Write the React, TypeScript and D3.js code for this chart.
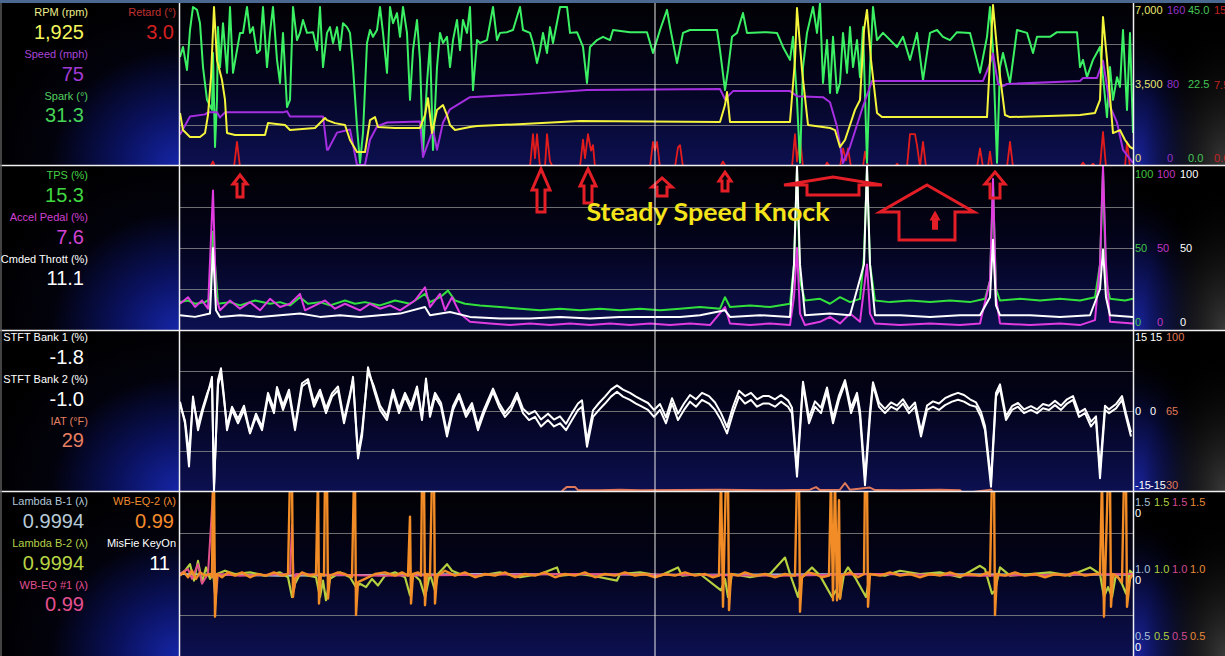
import React from "react";
import * as d3 from "d3";

type Pt = [number, number];

// time axis of the log (samples)
const timeDomain: [number, number] = [0, 953];
const cursorTime = 475;

// ---------- Panel 1 ----------
const rpm: Pt[] = [[0,2250],[3,1510],[10,1210],[20,1210],[25,1380],[28,2160],[31,3800],[34,6830],[37,4540],[42,3670],[45,2810],[47,1380],[55,1300],[85,1300],[88,1810],[105,1730],[110,1510],[135,1600],[138,1730],[145,2030],[147,1940],[155,1810],[165,1730],[170,1080],[177,560],[185,560],[190,1940],[195,2070],[198,1640],[215,1600],[240,1600],[245,2160],[248,2890],[252,1380],[257,2380],[263,2590],[267,2160],[270,1730],[275,1510],[290,1640],[297,1690],[343,1770],[400,1900],[540,1860],[545,2590],[547,3150],[550,1860],[610,1860],[615,4540],[617,6780],[622,4100],[628,1730],[650,1600],[655,1510],[660,780],[665,1080],[670,1730],[675,2380],[680,2810],[684,5830],[687,6700],[691,4540],[697,2250],[702,2070],[807,2070],[810,4540],[813,6910],[818,4540],[825,2160],[830,2070],[900,2160],[915,2250],[920,2810],[923,6390],[927,4540],[933,1380],[940,1510],[945,1080],[950,780],[953,700]];
const speed: Pt[] = [[0,30],[10,48],[25,50],[28,52],[37,52],[40,47],[45,52],[103,52],[107,53],[110,48],[143,48],[145,32],[147,15],[148,15],[157,32],[170,35],[177,0],[185,0],[190,25],[197,38],[207,42],[240,43],[243,8],[253,35],[257,15],[263,42],[270,55],[290,67],[347,70],[407,74],[540,75],[545,65],[553,73],[610,73],[617,68],[643,67],[650,62],[657,38],[663,2],[670,18],[683,58],[692,83],[803,83],[810,100],[813,110],[818,80],[823,78],[827,80],[900,83],[903,86],[917,86],[923,103],[930,58],[937,42],[943,15],[953,2]];
const spark: Pt[] = [[0,30.0],[3,32.8],[7,26.4],[10,37.5],[13,43.9],[17,43.1],[20,39.4],[23,27.2],[27,18.1],[32,15.3],[33,31.1],[35,5.0],[37,18.1],[38,38.3],[40,27.2],[43,39.4],[47,25.6],[50,43.9],[53,25.6],[57,31.9],[60,36.7],[63,36.7],[67,43.9],[70,36.7],[73,38.3],[77,31.1],[80,31.9],[83,43.9],[87,27.2],[90,36.7],[93,43.9],[97,29.2],[100,22.8],[103,36.7],[107,16.1],[110,18.1],[113,43.9],[117,34.7],[120,36.7],[123,40.3],[127,36.7],[133,36.9],[137,31.9],[140,43.9],[143,27.2],[147,36.7],[150,38.3],[153,33.9],[157,38.3],[160,31.9],[163,39.4],[167,38.3],[170,36.7],[173,27.2],[177,10.6],[180,0.6],[183,8.9],[187,33.9],[190,37.5],[193,35.6],[197,37.5],[200,43.9],[203,36.7],[207,25.6],[210,43.9],[213,39.4],[217,42.2],[220,35.6],[223,43.9],[227,36.7],[230,18.1],[233,31.9],[237,40.3],[240,29.2],[243,3.3],[247,22.8],[250,33.9],[253,4.2],[257,27.2],[260,36.7],[263,33.9],[267,35.6],[270,27.2],[273,34.7],[277,40.3],[280,31.9],[283,40.3],[287,36.7],[290,43.9],[293,20.8],[297,34.7],[300,33.9],[307,34.7],[313,43.9],[317,34.7],[320,36.7],[327,36.9],[333,37.5],[340,43.9],[343,37.5],[350,36.7],[353,33.9],[357,28.3],[360,31.9],[363,36.7],[367,31.1],[370,38.3],[373,33.9],[380,43.9],[387,43.9],[390,36.7],[397,36.9],[403,32.8],[407,22.8],[410,32.8],[417,34.7],[423,35.6],[430,34.7],[433,37.5],[450,36.9],[467,36.9],[473,31.1],[480,37.5],[487,43.1],[490,38.3],[497,28.3],[503,36.7],[510,37.5],[537,37.5],[540,31.9],[545,20.8],[548,26.4],[552,35.6],[557,36.7],[563,42.2],[567,36.7],[587,36.9],[597,36.7],[603,32.8],[610,29.2],[613,35.6],[617,18.1],[620,0.6],[623,27.2],[627,36.7],[633,43.9],[637,36.7],[640,45],[643,22.8],[647,34.7],[650,20.0],[653,35.6],[657,20.0],[660,22.8],[663,36.7],[667,25.6],[670,38.3],[673,27.2],[677,34.7],[680,24.4],[683,38.3],[687,0.6],[690,27.2],[693,43.9],[697,34.7],[703,36.7],[717,32.8],[723,35.6],[730,29.2],[737,36.7],[743,23.6],[750,36.7],[757,37.5],[763,35.6],[770,34.7],[777,36.9],[790,36.7],[800,25.6],[807,35.6],[810,43.9],[813,31.9],[817,0.6],[820,27.2],[823,31.1],[830,22.8],[837,37.5],[847,36.7],[853,31.1],[857,35.6],[870,35.6],[877,36.9],[897,36.9],[900,27.2],[903,29.2],[907,24.4],[913,29.2],[920,32.8],[927,13.3],[930,27.2],[933,18.1],[937,24.4],[940,21.7],[943,37.5],[947,15.3],[950,36.7],[953,8.9]];
const retard: Pt[] = [[0,0],[30,0],[33,0.5],[35,0],[54,0],[57,2.3],[60,0],[350,0],[353,3.0],[355,0.8],[357,3.0],[360,0],[365,0],[367,3.0],[370,0.5],[373,0],[400,0],[403,2.5],[405,0.8],[408,3.0],[411,1.5],[413,2.0],[415,0],[470,0],[473,2.3],[475,1.5],[477,2.3],[480,0],[495,0],[498,1.8],[500,2.0],[503,0],[540,0],[543,0.5],[546,0],[612,0],[615,3.0],[617,0.5],[620,2.7],[623,0],[645,0],[647,0.4],[650,0],[660,0],[663,1.7],[666,0.6],[668,1.7],[671,0],[683,0],[685,1.4],[688,0],[715,0],[717,0.3],[720,0],[727,0],[730,3.0],[735,3.0],[737,2.0],[740,0],[743,2.3],[746,0],[797,0],[800,1.7],[803,0],[808,0],[810,1.4],[812,0],[827,0],[830,2.3],[833,0],[900,0],[903,0.4],[906,0],[910,0],[913,0.3],[916,0],[920,0],[923,3.2],[926,0],[945,0],[947,2.3],[950,0],[953,0]];

// ---------- Panel 2 ----------
const tps: Pt[] = [[0,17],[8,18],[15,16],[25,17],[30,19],[33,60],[35,40],[38,16],[50,17],[60,15],[75,18],[90,16],[100,17],[110,15],[120,20],[128,16],[140,17],[150,15],[165,18],[175,16],[185,17],[200,15],[215,18],[230,16],[245,22],[250,17],[260,20],[268,24],[275,18],[285,16],[300,15],[320,14],[340,13],[360,12],[380,13],[400,12],[420,13],[440,12],[460,13],[480,12],[500,13],[520,14],[540,13],[545,20],[550,14],[570,15],[590,14],[610,16],[614,40],[617,98],[620,30],[625,18],[640,19],[650,16],[660,20],[670,17],[680,19],[684,45],[687,98],[690,40],[695,18],[710,17],[730,18],[750,17],[770,18],[790,17],[805,19],[810,30],[813,88],[816,25],[820,18],[840,19],[860,18],[880,19],[900,18],[915,20],[920,40],[923,97],[926,30],[930,19],[945,18],[953,19]];
const accelPedal: Pt[] = [[0,16],[8,20],[15,14],[22,18],[28,13],[33,85],[36,20],[40,12],[50,18],[60,13],[70,17],[80,12],[90,19],[100,14],[110,16],[120,22],[125,12],[135,15],[145,18],[155,13],[165,16],[180,12],[190,16],[200,13],[210,15],[220,12],[235,18],[245,26],[250,14],[260,22],[265,12],[272,20],[280,10],[290,5],[310,4],[330,3],[350,4],[370,3],[390,4],[410,3],[430,4],[450,3],[470,4],[490,3],[510,4],[530,3],[545,14],[550,4],[570,3],[590,4],[610,3],[614,20],[617,50],[620,10],[625,3],[640,5],[650,8],[660,4],[670,10],[680,5],[684,25],[687,40],[690,10],[695,4],[720,3],[750,4],[780,3],[800,4],[810,30],[813,92],[816,20],[820,4],[850,3],[880,4],[900,3],[915,6],[920,40],[923,100],[926,40],[930,5],[953,4]];
const cmdThrottle: Pt[] = [[0,9],[15,8],[30,10],[33,50],[36,12],[40,8],[60,9],[80,8],[100,9],[120,10],[140,8],[160,9],[180,8],[200,9],[220,10],[245,14],[250,9],[270,11],[290,8],[320,7],[350,7],[380,8],[410,7],[440,8],[470,8],[500,8],[520,9],[545,12],[550,8],[580,9],[610,8],[614,40],[617,100],[620,40],[625,9],[650,10],[670,9],[684,40],[687,100],[690,40],[695,9],[720,9],[750,8],[780,9],[800,9],[810,20],[813,55],[816,15],[820,9],[850,9],[880,8],[910,9],[920,25],[923,49],[926,20],[930,9],[953,8]];

// ---------- Panel 3 ----------
const stft1: Pt[] = [[0,1.75],[5,-2.3],[9,-10.4],[13,2.7],[18,-3.6],[23,0.2],[27,2.7],[32,6.4],[34,-15],[38,5.8],[41,8],[44,2.7],[47,-3.6],[52,0.2],[58,-2.3],[64,0.2],[70,-4.2],[76,-1.1],[82,-3.6],[88,2.7],[94,-0.4],[97,3.9],[103,0.2],[109,3.3],[115,-3.6],[122,4.6],[128,5.5],[134,0.8],[140,3.3],[146,-0.4],[152,2.7],[158,3.9],[164,-2.3],[170,2.7],[173,6.4],[178,-8.9],[182,-4.8],[188,8.2],[194,3.9],[200,0.2],[207,-1.7],[213,3.3],[219,-0.4],[225,2.7],[231,0.2],[237,3.9],[242,-1.7],[246,6.1],[250,-1.1],[255,2.7],[261,0.8],[267,-4.8],[273,0.2],[279,2.7],[286,-1.1],[292,0.8],[298,-3.6],[304,-0.4],[313,3.6],[319,0.8],[325,-1.1],[331,0.2],[337,2.7],[343,-0.4],[349,-1.7],[355,-1.1],[361,-2.9],[368,-1.7],[374,-2.9],[380,-2.3],[386,-3.6],[392,-1.7],[398,0.2],[402,0.8],[407,-6.7],[413,-1.1],[419,0.2],[425,1.4],[431,2.7],[437,3.6],[443,2.7],[450,2.1],[456,1.4],[462,0.8],[468,0.2],[474,-1.1],[480,0.2],[486,-2.3],[492,1.4],[498,-1.7],[504,0.2],[510,1.75],[516,0.8],[522,2.1],[529,1.4],[535,0.2],[541,-1.7],[547,-4.2],[553,-0.4],[559,2.7],[565,1.4],[571,2.1],[577,0.8],[583,1.4],[589,1.4],[595,0.8],[601,1.75],[608,0.8],[612,-0.4],[617,-12.3],[623,4.9],[629,-2.3],[635,0.8],[641,-0.4],[647,3.6],[653,-2.3],[659,2.1],[665,5.2],[671,-0.4],[677,2.7],[680,-1.1],[685,-13.9],[690,-1.1],[693,4.9],[699,0.8],[705,-0.4],[711,0.8],[717,0.2],[723,1.4],[729,-0.4],[735,0.8],[741,-4.8],[747,0.2],[753,0.8],[759,0.2],[765,1.1],[772,1.75],[778,2.1],[784,1.75],[790,1.1],[796,0.8],[801,-1.1],[805,-3.6],[811,-14.2],[816,2.7],[820,4.25],[826,-1.7],[832,0.2],[838,0.8],[844,-0.4],[851,0.2],[857,-0.4],[863,0.5],[869,0.2],[875,1.1],[881,0.2],[887,1.4],[893,2.1],[899,-1.1],[905,-0.4],[911,-2.9],[916,-1.7],[920,-12.6],[925,0.2],[929,-0.4],[936,0.5],[942,2.1],[946,-1.1],[951,-4.8]];
const stft2: Pt[] = [[0,1.2],[5,-1.8],[9,-8],[13,2.0],[18,-2.5],[23,0.8],[27,3.2],[32,5.5],[34,-14],[38,4.9],[41,7.0],[44,2.2],[47,-2.8],[52,0.8],[58,-1.5],[64,1.0],[70,-4.0],[76,-0.5],[82,-3.0],[88,3.4],[94,0.4],[97,4.5],[103,1.0],[109,4.0],[115,-2.8],[122,5.2],[128,6.0],[134,1.6],[140,4.0],[146,0.5],[152,3.3],[158,4.6],[164,-1.6],[170,3.3],[173,5.8],[178,-8],[182,-3.8],[188,7.4],[194,4.6],[200,1.0],[207,-1.0],[213,4.0],[219,0.4],[225,3.4],[231,1.0],[237,4.6],[242,-1.0],[246,5.4],[250,-0.3],[255,3.4],[261,1.5],[267,-4.0],[273,0.9],[279,3.2],[286,-0.4],[292,1.5],[298,-2.8],[304,0.3],[313,4.2],[319,1.5],[325,-0.4],[331,1.0],[337,3.4],[343,0.4],[349,-0.6],[355,0],[361,-1.6],[368,-0.5],[374,-1.6],[380,-1.0],[386,-2.4],[392,-0.4],[398,1.4],[402,2.0],[407,-5.6],[413,0.1],[419,1.5],[425,2.7],[431,4.0],[437,4.8],[443,4.0],[450,3.4],[456,2.7],[462,2.1],[468,1.5],[474,0.2],[480,1.3],[486,-1.2],[492,2.4],[498,-0.5],[504,1.4],[510,3.0],[516,2.2],[522,3.4],[529,2.8],[535,1.6],[541,-0.4],[547,-3.0],[553,0.8],[559,3.8],[565,2.8],[571,3.4],[577,2.2],[583,2.8],[589,2.8],[595,2.2],[601,3.0],[608,2.0],[612,0.6],[617,-11],[623,5.5],[629,-1.3],[635,1.8],[641,0.6],[647,4.4],[653,-1.3],[659,2.9],[665,5.8],[671,0.6],[677,3.4],[680,0],[685,-12.5],[690,0],[693,5.4],[699,1.6],[705,0.4],[711,1.6],[717,1.0],[723,2.2],[729,0.4],[735,1.6],[741,-3.8],[747,1.0],[753,1.8],[759,1.4],[765,2.4],[772,3.0],[778,3.4],[784,3.0],[790,2.2],[796,1.6],[801,-0.2],[805,-2.8],[811,-13],[816,3.4],[820,5.0],[826,-1.0],[832,0.9],[838,1.5],[844,0.3],[851,0.9],[857,0.3],[863,1.3],[869,1.0],[875,1.9],[881,1.0],[887,2.2],[893,2.8],[899,-0.3],[905,0.4],[911,-2.0],[916,-1.0],[920,-11],[925,1.0],[929,0.3],[936,1.3],[942,2.8],[946,-0.4],[951,-4.0]];
const iat: Pt[] = [[0,29],[380,29],[383,30.4],[387,31.8],[395,31.8],[398,30.4],[420,30.3],[440,30.5],[460,30.3],[500,30.4],[540,30.5],[600,30.3],[630,30.6],[636,31.7],[640,30.4],[660,30.6],[665,33.5],[670,30.5],[690,31.5],[695,30.4],[720,30.3],[760,30.5],[780,30.3],[783,29],[811,30.6],[814,29],[953,29]];

// ---------- Panel 4 ----------
const lambda1: Pt[] = [[0,1.0],[100,0.99],[300,1.0],[500,0.995],[700,1.0],[953,0.995]];
const lambda2: Pt[] = [[0,1.0],[5,1.02],[10,1.06],[14,0.96],[18,1.08],[22,0.95],[26,1.04],[30,0.97],[33,1.02],[35,0.88],[37,1.0],[45,1.02],[55,1.0],[70,1.01],[85,0.99],[100,1.01],[108,0.98],[112,0.86],[115,0.94],[120,1.0],[136,0.98],[140,0.86],[143,0.96],[146,0.84],[150,0.97],[160,1.01],[170,0.98],[176,0.92],[180,0.94],[186,0.92],[192,0.97],[198,0.93],[205,0.99],[215,1.01],[225,0.98],[230,0.87],[233,1.0],[240,0.96],[245,0.86],[250,1.0],[255,0.9],[258,1.0],[267,1.06],[272,1.02],[280,1.0],[300,0.99],[320,1.01],[340,0.98],[360,1.0],[377,1.04],[380,0.99],[400,1.0],[420,0.98],[437,0.96],[440,1.0],[460,1.01],[480,0.99],[498,1.04],[502,0.99],[520,1.0],[541,0.9],[545,0.97],[548,0.86],[552,1.0],[570,0.98],[590,1.0],[605,1.1],[610,1.0],[618,0.86],[622,0.98],[632,1.04],[640,0.99],[652,0.86],[656,0.9],[660,0.85],[664,1.0],[668,1.04],[675,0.98],[686,0.86],[690,1.0],[705,0.99],[720,1.02],[740,1.0],[760,1.01],[780,0.98],[800,1.05],[805,1.03],[812,0.88],[815,0.9],[820,1.04],[830,0.99],[850,1.0],[870,1.01],[890,0.99],[910,1.04],[920,1.0],[924,0.86],[928,0.92],[932,0.86],[936,1.0],[942,0.94],[946,0.88],[950,1.02],[953,1.0]];
const wbEq1: Pt[] = [[0,1.0],[8,1.03],[12,0.97],[18,1.06],[22,0.94],[28,1.0],[33,1.5],[35,0.8],[38,1.0],[60,0.99],[110,1.0],[112,1.3],[114,0.9],[116,1.0],[200,0.99],[400,1.0],[600,0.99],[700,1.0],[800,0.99],[953,1.0]];
const wbEq2: Pt[] = [[0,0.99],[4,1.01],[8,0.98],[12,1.02],[16,0.97],[20,1.01],[25,0.99],[30,1.0],[32,0.98],[33,1.6],[34,1.6],[35,0.74],[37,1.0],[42,0.98],[48,1.01],[55,0.99],[62,1.01],[70,0.98],[78,1.0],[86,0.99],[94,1.01],[102,0.99],[108,1.0],[110,1.6],[112,1.6],[113,0.86],[115,0.97],[122,1.01],[130,0.99],[136,1.0],[138,1.6],[139,0.82],[141,1.0],[144,0.99],[145,1.6],[147,1.6],[148,0.85],[150,0.99],[158,1.01],[165,1.0],[172,0.98],[174,1.6],[175,1.6],[176,0.75],[178,0.95],[185,0.97],[195,1.0],[205,1.01],[215,0.99],[222,1.01],[228,0.99],[230,1.35],[231,0.82],[233,1.0],[238,1.01],[241,0.99],[242,1.6],[244,1.6],[245,0.81],[247,1.0],[250,0.99],[252,1.6],[254,1.6],[255,0.82],[257,0.99],[265,1.02],[275,0.99],[285,1.01],[295,0.98],[305,1.0],[315,0.99],[325,1.01],[335,0.98],[345,1.0],[355,0.99],[365,1.01],[375,0.98],[385,1.0],[395,0.99],[405,1.01],[415,0.98],[425,1.0],[435,0.99],[445,1.01],[455,0.99],[465,1.0],[475,0.98],[485,1.0],[495,0.99],[505,1.01],[515,0.99],[525,1.0],[533,0.98],[539,0.99],[541,1.6],[543,0.8],[546,1.6],[548,1.6],[549,0.78],[551,1.0],[558,0.99],[565,1.01],[575,0.99],[585,1.0],[595,0.98],[605,1.0],[612,0.99],[615,0.99],[617,1.6],[619,1.6],[620,0.77],[622,0.98],[628,1.01],[635,1.0],[642,0.98],[649,0.99],[651,1.6],[653,0.84],[655,1.6],[657,0.84],[659,1.45],[660,0.85],[662,0.99],[670,1.01],[678,0.98],[684,1.0],[685,1.6],[687,1.6],[688,0.8],[690,1.0],[700,0.99],[710,1.01],[720,0.99],[730,1.0],[740,0.98],[750,1.0],[760,0.99],[770,1.01],[780,0.99],[790,1.0],[800,0.99],[808,1.01],[810,0.99],[812,1.6],[814,1.6],[815,0.75],[817,1.0],[825,0.99],[835,1.01],[845,0.99],[855,1.0],[865,0.98],[875,1.0],[885,0.99],[895,1.01],[905,0.99],[915,1.0],[920,1.0],[922,1.6],[924,0.74],[928,1.6],[930,1.6],[931,0.8],[933,1.0],[938,0.98],[942,0.95],[944,1.6],[946,1.6],[947,0.8],[950,0.97],[953,1.0]];

// ---------- axis ticks ----------
const rpmTicks = [0, 3500, 7000];
const speedTicks = [0, 80, 160];
const sparkTicks = [0, 22.5, 45];
const retardTicks = [0, 7.5, 15];
const pctTicks = [0, 50, 100];
const stftTicks = [-15, 0, 15];
const iatTicks = [30, 65, 100];
const lambdaTicks = [0.5, 1.0, 1.5];

// ---------- annotations (panel 2 units: time, top %, head-base %, bottom %, head half-width, shaft half-width) ----------
const knockArrows: number[][] = [
  [60, 94.5, 89, 81.1, 7, 3],
  [361, 98.2, 85.4, 72, 9, 4],
  [408, 98.2, 87.8, 77.4, 8, 4],
  [482, 92.7, 87.2, 81.7, 10, 5],
  [545, 96.3, 90.9, 84.8, 6, 3],
  [653, 93.3, 88.4, 82.3, 49, 26],
  [747, 88.4, 72, 54.9, 47, 28],
  [755, 71, 67.7, 62, 3, 1.5],
  [815, 96.3, 89, 80.5, 10, 5],
];
const annotationText = "Steady Speed Knock";
const annotationAt: Pt = [528, 66.5];

// ---------- left readouts ----------
const readouts = [
  { panel: 0, col: 0, row: 0, label: "RPM (rpm)", value: "1,925", lc: "#eeee8a", vc: "#f6f65c" },
  { panel: 0, col: 0, row: 1, label: "Speed (mph)", value: "75", lc: "#a845d8", vc: "#a23ad6" },
  { panel: 0, col: 0, row: 2, label: "Spark (°)", value: "31.3", lc: "#55d060", vc: "#45d455" },
  { panel: 0, col: 1, row: 0, label: "Retard (°)", value: "3.0", lc: "#c23030", vc: "#d42020" },
  { panel: 1, col: 0, row: 0, label: "TPS (%)", value: "15.3", lc: "#45d045", vc: "#40d840" },
  { panel: 1, col: 0, row: 1, label: "Accel Pedal (%)", value: "7.6", lc: "#d040d0", vc: "#d244d2" },
  { panel: 1, col: 0, row: 2, label: "Cmded Thrott (%)", value: "11.1", lc: "#ffffff", vc: "#ffffff" },
  { panel: 2, col: 0, row: 0, label: "STFT Bank 1 (%)", value: "-1.8", lc: "#ffffff", vc: "#ffffff" },
  { panel: 2, col: 0, row: 1, label: "STFT Bank 2 (%)", value: "-1.0", lc: "#ffffff", vc: "#ffffff" },
  { panel: 2, col: 0, row: 2, label: "IAT (°F)", value: "29", lc: "#e08060", vc: "#e88060" },
  { panel: 3, col: 0, row: 0, label: "Lambda B-1 (λ)", value: "0.9994", lc: "#b0c6d8", vc: "#b6cad8" },
  { panel: 3, col: 0, row: 1, label: "Lambda B-2 (λ)", value: "0.9994", lc: "#b4d048", vc: "#b8d444" },
  { panel: 3, col: 0, row: 2, label: "WB-EQ #1 (λ)", value: "0.99", lc: "#e05090", vc: "#e4508e" },
  { panel: 3, col: 1, row: 0, label: "WB-EQ-2 (λ)", value: "0.99", lc: "#f08a30", vc: "#f48c2c" },
  { panel: 3, col: 1, row: 1, label: "MisFie KeyOn", value: "11", lc: "#ffffff", vc: "#ffffff" },
];

const W = 1225;
const H = 656;
const X0 = 180;
const X1 = 1133;
const PANELS = [
  { top: 3, bottom: 165 },
  { top: 166, bottom: 330 },
  { top: 331, bottom: 491 },
  { top: 492, bottom: 656 },
];
const FONT = "'Liberation Sans', Arial, sans-serif";

export default function App() {
  const x = d3.scaleLinear().domain(timeDomain).range([X0, X1]);
  const p = PANELS;
  const yRpm = d3.scaleLinear().domain([0, 7000]).range([p[0].bottom, p[0].top]);
  const ySpeed = d3.scaleLinear().domain([0, 160]).range([p[0].bottom, p[0].top]);
  const ySpark = d3.scaleLinear().domain([0, 45]).range([p[0].bottom, p[0].top]);
  const yRetard = d3.scaleLinear().domain([0, 15]).range([p[0].bottom + 2, p[0].top]);
  const yPct = d3.scaleLinear().domain([0, 100]).range([p[1].bottom, p[1].top]);
  const yStft = d3.scaleLinear().domain([-15, 15]).range([p[2].bottom, p[2].top]);
  const yIat = d3.scaleLinear().domain([30, 100]).range([p[2].bottom, p[2].top]);
  const yLam = d3.scaleLinear().domain([0.5, 1.5]).range([p[3].bottom, p[3].top]);

  const path = (data: Pt[], y: d3.ScaleLinear<number, number>) =>
    d3.line<Pt>().x((d) => x(d[0])).y((d) => y(d[1]))(data) || "";

  const fmtInt = d3.format(",");
  const fmt1 = d3.format(".1f");

  type Col = { ticks: number[]; scale: d3.ScaleLinear<number, number>; fmt: (v: number) => string; color: string; x: number };
  const axisCols: Col[][] = [
    [
      { ticks: rpmTicks, scale: yRpm, fmt: fmtInt, color: "#e6e66e", x: 1135 },
      { ticks: speedTicks, scale: ySpeed, fmt: fmtInt, color: "#9432c8", x: 1167 },
      { ticks: sparkTicks, scale: ySpark, fmt: fmt1, color: "#46c455", x: 1188 },
      { ticks: retardTicks, scale: yRetard, fmt: fmt1, color: "#c42222", x: 1214 },
    ],
    [
      { ticks: pctTicks, scale: yPct, fmt: fmtInt, color: "#42c442", x: 1135 },
      { ticks: pctTicks, scale: yPct, fmt: fmtInt, color: "#c236c2", x: 1157 },
      { ticks: pctTicks, scale: yPct, fmt: fmtInt, color: "#ffffff", x: 1180 },
    ],
    [
      { ticks: stftTicks, scale: yStft, fmt: (v) => String(v), color: "#ffffff", x: 1135 },
      { ticks: stftTicks, scale: yStft, fmt: (v) => String(v), color: "#ffffff", x: 1150 },
      { ticks: iatTicks, scale: yIat, fmt: (v) => String(v), color: "#e07a58", x: 1166 },
    ],
    [
      { ticks: lambdaTicks, scale: yLam, fmt: fmt1, color: "#a8c0d8", x: 1135 },
      { ticks: lambdaTicks, scale: yLam, fmt: fmt1, color: "#b0d040", x: 1154 },
      { ticks: lambdaTicks, scale: yLam, fmt: fmt1, color: "#d24a92", x: 1172 },
      { ticks: lambdaTicks, scale: yLam, fmt: fmt1, color: "#e88a38", x: 1190 },
    ],
  ];
  const edgeOff = [7, 8, 6, 10];

  const arrowPath = (a: number[]) => {
    const [t, top, head, bot, hh, sh] = a;
    const pts: [number, number][] = [
      [x(t), yPct(top)],
      [x(t + hh), yPct(head)],
      [x(t + sh), yPct(head)],
      [x(t + sh), yPct(bot)],
      [x(t - sh), yPct(bot)],
      [x(t - sh), yPct(head)],
      [x(t - hh), yPct(head)],
    ];
    return "M" + pts.map((q) => q.join(",")).join("L") + "Z";
  };

  return (
    <svg width={W} height={H} style={{ position: "absolute", left: 0, top: 0, display: "block", background: "#000" }}>
      <defs>
        <linearGradient id="plotBg" x1="0" y1="0" x2="0" y2="1">
          <stop offset="0" stopColor="#010104" />
          <stop offset="0.45" stopColor="#03031a" />
          <stop offset="1" stopColor="#0c1050" />
        </linearGradient>
        <radialGradient id="leftBg" cx="1" cy="1" r="1.1">
          <stop offset="0" stopColor="#1626a8" />
          <stop offset="0.3" stopColor="#0a1260" />
          <stop offset="0.65" stopColor="#02020c" />
          <stop offset="1" stopColor="#000000" />
        </radialGradient>
        <radialGradient id="rightBlue" cx="0" cy="1" r="0.9">
          <stop offset="0" stopColor="#1a24a0" />
          <stop offset="0.5" stopColor="#080c40" />
          <stop offset="1" stopColor="#000000" stopOpacity="0" />
        </radialGradient>
        <radialGradient id="rightGray" cx="1" cy="1" r="0.9">
          <stop offset="0" stopColor="#3a3a3a" />
          <stop offset="1" stopColor="#000000" stopOpacity="0" />
        </radialGradient>
        {p.map((pp, i) => (
          <clipPath id={`clip${i}`} key={i}>
            <rect x={X0} y={pp.top} width={X1 - X0} height={pp.bottom - pp.top} />
          </clipPath>
        ))}
      </defs>

      {/* backgrounds */}
      {p.map((pp, i) => (
        <g key={`bg${i}`}>
          <rect x={0} y={pp.top} width={X0} height={pp.bottom - pp.top} fill="url(#leftBg)" />
          <rect x={X0} y={pp.top} width={X1 - X0} height={pp.bottom - pp.top} fill="url(#plotBg)" />
          <rect x={X1} y={pp.top} width={W - X1} height={pp.bottom - pp.top} fill="#000" />
          <rect x={X1} y={pp.top} width={W - X1} height={pp.bottom - pp.top} fill="url(#rightBlue)" />
          <rect x={X1} y={pp.top} width={W - X1} height={pp.bottom - pp.top} fill="url(#rightGray)" />
          {[0.25, 0.5, 0.75].map((f) => {
            const yy = Math.round(pp.top + (pp.bottom - pp.top) * f) + 0.5;
            return <line key={f} x1={X0} x2={X1} y1={yy} y2={yy} stroke="#8a8a8a" strokeWidth={1} opacity={0.8} />;
          })}
        </g>
      ))}
      <rect x={0} y={0} width={W} height={3} fill="#4a6890" />

      {/* Panel 1 */}
      <g clipPath="url(#clip0)" fill="none" strokeLinejoin="round">
        <path d={path(retard, yRetard)} stroke="#e41c1c" strokeWidth={1.8} />
        <path d={path(spark, ySpark)} stroke="#3cf064" strokeWidth={2} />
        <path d={path(speed, ySpeed)} stroke="#a42ee0" strokeWidth={2} />
        <path d={path(rpm, yRpm)} stroke="#f4f43c" strokeWidth={2} />
      </g>

      {/* Panel 2 */}
      <g clipPath="url(#clip1)" fill="none" strokeLinejoin="round">
        <path d={path(tps, yPct)} stroke="#32e03c" strokeWidth={2} />
        <path d={path(accelPedal, yPct)} stroke="#e03ce0" strokeWidth={2} />
        <path d={path(cmdThrottle, yPct)} stroke="#ffffff" strokeWidth={2} />
      </g>

      {/* Panel 3 */}
      <g clipPath="url(#clip2)" fill="none" strokeLinejoin="round">
        <path d={path(iat, yIat)} stroke="#e0785a" strokeWidth={2} />
        <path d={path(stft2, yStft)} stroke="#ffffff" strokeWidth={2} />
        <path d={path(stft1, yStft)} stroke="#ffffff" strokeWidth={2} />
      </g>

      {/* Panel 4 */}
      <g clipPath="url(#clip3)" fill="none" strokeLinejoin="round">
        <path d={path(lambda1, yLam)} stroke="#aac4dc" strokeWidth={2} />
        <path d={path(lambda2, yLam)} stroke="#b6d040" strokeWidth={2.2} />
        <path d={path(wbEq1, yLam)} stroke="#e0508a" strokeWidth={2} />
        <path d={path(wbEq2, yLam)} stroke="#f28c26" strokeWidth={2.4} />
      </g>

      {/* annotations */}
      <g fill="none" stroke="#e41e26" strokeWidth={3} strokeLinejoin="miter">
        {knockArrows.map((a, i) => (
          <path key={i} d={arrowPath(a)} />
        ))}
      </g>
      <text
        x={x(annotationAt[0])}
        y={yPct(annotationAt[1])}
        textAnchor="middle"
        fill="#f4e41a"
        fontFamily="Lato, 'Open Sans', sans-serif"
        fontWeight={700}
        fontSize={25}
        textLength={243}
        lengthAdjust="spacingAndGlyphs"
      >
        {annotationText}
      </text>

      {/* frame lines */}
      {[p[0].bottom, p[1].bottom, p[2].bottom].map((yy) => (
        <line key={yy} x1={0} x2={W} y1={yy + 0.5} y2={yy + 0.5} stroke="#f0f0f0" strokeWidth={1.5} />
      ))}
      <line x1={X0 - 0.5} x2={X0 - 0.5} y1={3} y2={H} stroke="#f0f0f0" strokeWidth={1.5} />
      <line x1={X1 + 0.5} x2={X1 + 0.5} y1={3} y2={H} stroke="#f0f0f0" strokeWidth={1.5} />
      <line x1={1} x2={1} y1={3} y2={H} stroke="#5a5a5a" strokeWidth={1.5} />
      <line x1={x(cursorTime)} x2={x(cursorTime)} y1={3} y2={H} stroke="#e8e8e8" strokeWidth={1} />

      {/* right axis labels */}
      <g fontFamily={FONT} fontSize={11}>
        {axisCols.map((cols, pi) =>
          cols.map((c, ci) =>
            c.ticks.map((v) => {
              const pp = p[pi];
              const raw = c.scale(v);
              if (pi === 3) {
                const yy = Math.max(pp.top + edgeOff[3], Math.min(pp.bottom - 20, raw - 5));
                return (
                  <g key={`${pi}-${ci}-${v}`}>
                    <text x={c.x} y={yy} fill={c.color} dominantBaseline="central">
                      {c.fmt(v)}
                    </text>
                    {ci === 0 && (
                      <text x={c.x} y={yy + 11} fill="#ffffff" dominantBaseline="central">
                        0
                      </text>
                    )}
                  </g>
                );
              }
              const yy = Math.max(pp.top + edgeOff[pi], Math.min(pp.bottom - edgeOff[pi], raw));
              return (
                <text key={`${pi}-${ci}-${v}`} x={c.x} y={yy} fill={c.color} dominantBaseline="central">
                  {c.fmt(v)}
                </text>
              );
            })
          )
        )}
      </g>

      {/* left readouts */}
      <g fontFamily={FONT}>
        {readouts.map((r, i) => {
          const top = p[r.panel].top + (r.panel === 2 ? -3 : 0);
          const ly = top + 9 + 42 * r.row;
          const vy = top + 29 + 41.5 * r.row;
          const lx = r.col === 0 ? 88 : 176;
          const vx = r.col === 0 ? 84 : r.label === "MisFie KeyOn" ? 170 : 174;
          return (
            <g key={i}>
              <text x={lx} y={ly} fill={r.lc} fontSize={11} textAnchor="end" dominantBaseline="central">
                {r.label}
              </text>
              <text x={vx} y={vy} fill={r.vc} fontSize={20} textAnchor="end" dominantBaseline="central">
                {r.value}
              </text>
            </g>
          );
        })}
      </g>
    </svg>
  );
}
